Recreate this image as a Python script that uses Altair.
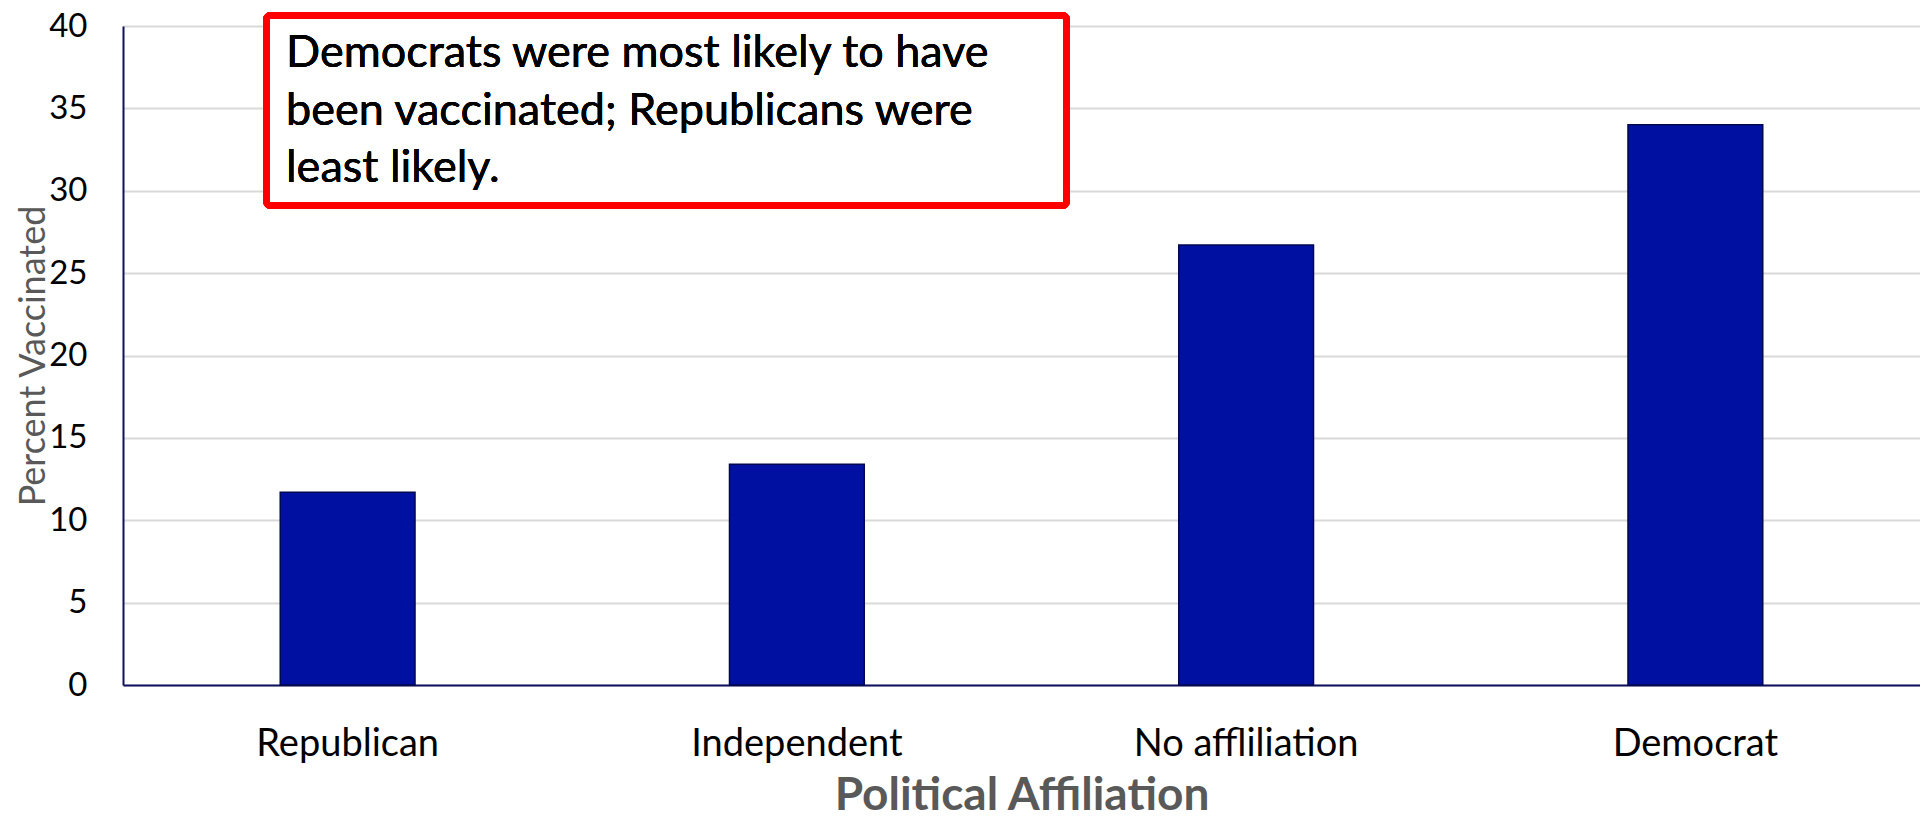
import altair as alt
import pandas as pd

categories = ["Republican", "Independent", "No affliliation", "Democrat"]
percent_vaccinated = [11.7, 13.4, 26.7, 34.0]
y_ticks = [0, 5, 10, 15, 20, 25, 30, 35, 40]
note_lines = "Democrats were most likely to have\nbeen vaccinated; Republicans were\nleast likely."

df = pd.DataFrame({"affiliation": categories, "pct": percent_vaccinated})

TOP = 18
W, H = 1797, 659
NAVY = "#10105e"
FONT = "Lato"
PLOT_TOP = 8 + TOP

bars = alt.Chart(df).mark_bar(
    color="#0010a0", stroke="#00084f", strokeWidth=1.5
).encode(
    x=alt.X(
        "affiliation:N",
        sort=categories,
        scale=alt.Scale(paddingInner=0.7, paddingOuter=0.35),
        axis=alt.Axis(
            title="Political Affiliation",
            titleFont=FONT, titleFontSize=46, titleFontWeight="bold",
            titleColor="#595959", titleBaseline="alphabetic",
            titleX=W / 2, titleY=124, titleAlign="center",
            labelFont=FONT, labelFontSize=38, labelColor="#000000",
            labelAngle=0, labelBaseline="alphabetic", labelPadding=70,
            labelLimit=0,
            ticks=False, tickSize=0,
            domain=True, domainColor=NAVY, domainWidth=2,
            grid=False,
        ),
    ),
    y=alt.Y(
        "pct:Q",
        scale=alt.Scale(domain=[0, 40], nice=False),
        axis=alt.Axis(
            title="Percent Vaccinated",
            values=y_ticks,
            titleFont=FONT, titleFontSize=36, titleFontWeight="normal",
            titleColor="#595959", titleBaseline="alphabetic",
            titleX=-79, titleY=H / 2, titleAlign="center", titleAngle=270,
            labelFont=FONT, labelFontSize=33, labelColor="#000000",
            labelPadding=36, labelBaseline="middle", labelLimit=0,
            ticks=False, tickSize=0,
            domain=True, domainColor=NAVY, domainWidth=2,
            grid=True, gridColor="#d9d9d9", gridWidth=2,
        ),
    ),
)

box = alt.Chart(df).mark_rect(
    fill="white", stroke="#ff0000", strokeWidth=7, cornerRadius=4
).encode(
    x=alt.value(143.5), x2=alt.value(943.5),
    y=alt.value(15.5 - PLOT_TOP), y2=alt.value(205.5 - PLOT_TOP),
)

note = alt.Chart(df).mark_text(
    align="left", baseline="alphabetic", font=FONT, fontSize=45,
    color="#000000", lineBreak="\n", lineHeight=57.5,
).encode(
    x=alt.value(163), y=alt.value(67 - PLOT_TOP), text=alt.value(note_lines),
)

chart = alt.layer(bars, box, note).properties(
    width=W, height=H,
    autosize=alt.AutoSizeParams(type="none"),
    padding={"left": 115, "top": TOP, "right": 0, "bottom": 136},
).configure_view(stroke=None).configure(background="white")

chart.save("out.html", embed_options={"renderer": "svg", "actions": False})
